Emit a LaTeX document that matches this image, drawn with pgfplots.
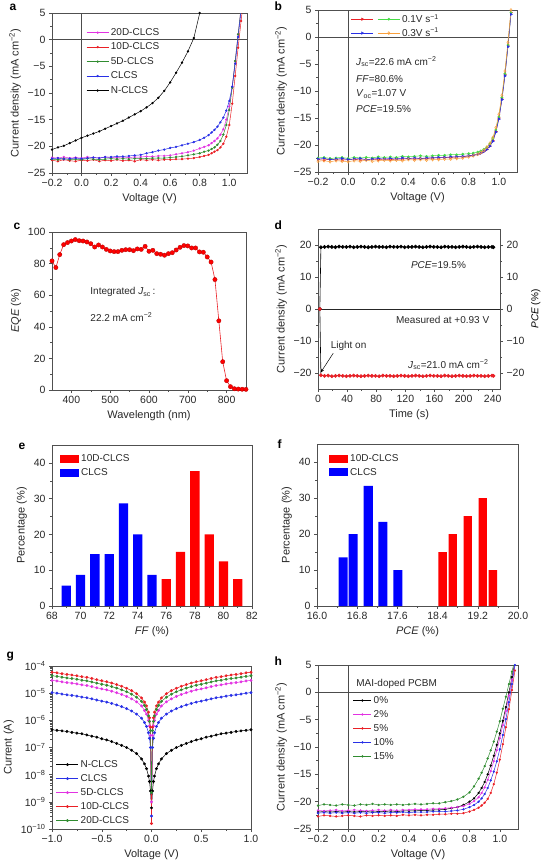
\documentclass[border=0pt]{standalone}
\usepackage{fontspec}
\setmainfont{Liberation Sans}
\usepackage{pgfplots}
\usepackage{pgfplotstable}
\pgfplotsset{compat=1.18}
\usetikzlibrary{arrows.meta,shadings}

\definecolor{cmag}{RGB}{226,50,226}
\definecolor{cred}{RGB}{234,32,38}
\definecolor{cgreen}{RGB}{48,140,48}
\definecolor{cblue}{RGB}{40,48,230}
\definecolor{clgreen}{RGB}{70,220,70}
\definecolor{corange}{RGB}{250,160,60}
\definecolor{cframe}{RGB}{80,80,80}
\definecolor{ctext}{RGB}{40,40,40}

\newcommand{\fs}{\fontsize{10.5}{12}\selectfont}
\newcommand{\fl}{\fontsize{11}{12}\selectfont}
\newcommand{\fa}{\fontsize{10}{11.5}\selectfont}

\pgfplotsset{
  panel/.style={
    scale only axis,
    axis line style={cframe, line width=0.5pt},
    every tick/.style={cframe, line width=0.5pt},
    tick align=outside, tick pos=left,
    major tick length=3pt, minor tick length=1.8pt,
    tick label style={font=\fs, text=ctext},
    label style={font=\fl, text=ctext},
    /pgf/number format/assume math mode=true,
    legend cell align=left,
    legend style={draw=none, fill=none, font=\fa, text=ctext},
  },
  jv/.style={panel, xmin=-0.2, xmax=1.12, ymin=-25, ymax=5,
    xtick={-0.2,0,0.2,0.4,0.6,0.8,1.0},
    xticklabels={−0.2,0.0,0.2,0.4,0.6,0.8,1.0},
    ytick={-25,-20,-15,-10,-5,0,5},
    yticklabels={−25,−20,−15,−10,−5,0,5},
    minor tick num=1,
    xlabel={Voltage (V)},
    ylabel={Current density (mA cm\textsuperscript{−2})}},
  legline/.style={legend image code/.code={\draw[mark repeat=2,mark phase=2,##1] plot coordinates {(0pt,0pt) (11pt,0pt) (22pt,0pt)};}},
  leglineh/.style={legend image code/.code={\draw[mark repeat=2,mark phase=2,##1] plot coordinates {(0pt,0pt) (9pt,0pt) (18pt,0pt)};}},
  legbar/.style={legend image code/.code={\fill[##1] (0pt,-4pt) rectangle (19pt,4pt);}},
}

% panel a: V, 20D, 10D, 5D, CLCS, N-CLCS
\pgfplotstableread{
V m r g b k
-0.20 -22.1 -22.6 -22.4 -22.3 -20.6
-0.16 -22.2 -22.8 -22.5 -22.2 -20.2
-0.12 -22.0 -22.5 -22.3 -22.4 -19.9
-0.08 -22.2 -22.7 -22.5 -22.3 -19.4
-0.04 -22.1 -22.8 -22.4 -22.2 -18.9
0.00 -22.2 -22.6 -22.5 -22.3 -18.4
0.04 -22.0 -22.7 -22.3 -22.2 -18.0
0.08 -22.1 -22.5 -22.4 -22.1 -17.6
0.12 -22.2 -22.8 -22.5 -22.2 -17.2
0.16 -22.0 -22.6 -22.4 -22.0 -16.7
0.20 -22.1 -22.7 -22.3 -22.0 -16.2
0.24 -22.1 -22.5 -22.4 -21.9 -15.7
0.28 -22.0 -22.7 -22.3 -21.9 -15.2
0.32 -22.1 -22.6 -22.4 -21.8 -14.6
0.36 -22.0 -22.8 -22.3 -21.7 -14.0
0.40 -22.0 -22.5 -22.3 -21.6 -13.4
0.44 -21.9 -22.6 -22.3 -21.3 -12.7
0.48 -21.9 -22.5 -22.2 -21.1 -11.9
0.52 -21.8 -22.6 -22.2 -20.8 -10.9
0.56 -21.8 -22.5 -22.2 -20.6 -9.6
0.60 -21.7 -22.5 -22.1 -20.3 -8.0
0.64 -21.5 -22.4 -22.0 -20.1 -6.2
0.68 -21.3 -22.4 -21.9 -19.8 -4.3
0.72 -21.1 -22.3 -21.7 -19.5 -2.2
0.76 -20.8 -22.2 -21.5 -19.2 0.3
0.80 -20.4 -22.0 -21.3 -18.8 5.0
0.83 -20.1 -21.8 -21.0 -18.4 nan
0.86 -19.8 -21.6 -20.8 -17.9 nan
0.88 -19.4 -21.3 -20.5 -17.4 nan
0.90 -19.0 -21.0 -20.2 -16.9 nan
0.92 -18.5 -20.7 -19.7 -16.3 nan
0.94 -17.8 -20.2 -19.0 -15.5 nan
0.96 -16.8 -19.5 -17.8 -14.6 nan
0.98 -15.0 -18.2 -16.0 -13.3 nan
1.00 -12.5 -16.0 -13.2 -11.5 nan
1.02 -8.8 -12.0 -9.0 -8.8 nan
1.04 -4.0 -6.8 -4.0 -4.5 nan
1.06 1.0 -1.5 1.0 0.5 nan
1.08 6.0 3.5 6.0 5.5 nan
1.10 nan 8.5 nan nan nan
}\tabA

% panel b: V, red, green, blue, orange
\pgfplotstableread{
V r g b o
-0.20 -22.7 -22.4 -22.6 -23.0
-0.16 -22.8 -22.3 -22.5 -22.9
-0.12 -22.6 -22.5 -22.7 -23.1
-0.08 -22.7 -22.4 -22.6 -22.9
-0.04 -22.8 -22.3 -22.5 -23.0
0.00 -22.7 -22.5 -22.7 -23.1
0.04 -22.6 -22.3 -22.6 -22.9
0.08 -22.8 -22.4 -22.5 -23.0
0.12 -22.7 -22.3 -22.7 -22.8
0.16 -22.6 -22.4 -22.6 -23.0
0.20 -22.7 -22.2 -22.5 -22.9
0.24 -22.6 -22.3 -22.6 -22.8
0.28 -22.7 -22.2 -22.5 -22.9
0.32 -22.6 -22.3 -22.6 -22.8
0.36 -22.6 -22.1 -22.4 -22.9
0.40 -22.5 -22.2 -22.5 -22.7
0.44 -22.6 -22.1 -22.4 -22.8
0.48 -22.5 -22.0 -22.5 -22.7
0.52 -22.5 -22.1 -22.4 -22.8
0.56 -22.4 -22.0 -22.4 -22.7
0.60 -22.4 -21.9 -22.3 -22.7
0.64 -22.3 -21.9 -22.3 -22.6
0.68 -22.3 -21.8 -22.2 -22.6
0.72 -22.2 -21.8 -22.2 -22.5
0.76 -22.2 -21.7 -22.1 -22.4
0.80 -22.0 -21.6 -22.0 -22.2
0.83 -21.9 -21.5 -21.9 -22.0
0.86 -21.7 -21.3 -21.7 -21.7
0.88 -21.5 -21.1 -21.5 -21.4
0.90 -21.2 -20.8 -21.2 -21.0
0.92 -20.8 -20.4 -20.8 -20.4
0.94 -20.2 -19.8 -20.2 -19.7
0.96 -19.2 -18.8 -19.3 -18.6
0.98 -17.5 -17.2 -17.6 -16.8
1.00 -15.0 -14.8 -15.2 -14.3
1.02 -11.5 -11.2 -11.6 -10.8
1.04 -7.0 -6.8 -7.2 -6.3
1.06 -1.5 -1.5 -1.8 -1.0
1.08 4.5 4.5 4.2 5.0
}\tabB

% panel g: V, N-CLCS, CLCS, 5D, 10D, 20D
\pgfplotstableread{
V k b m r g
-1.00 4.5e-7 1.05e-5 2.96e-5 5.9e-5 4.38e-5
-0.95 4.3e-7 1.0e-5 2.82e-5 5.62e-5 4.17e-5
-0.90 4.1e-7 9.3e-6 2.62e-5 5.23e-5 3.88e-5
-0.85 3.9e-7 8.7e-6 2.45e-5 4.89e-5 3.63e-5
-0.80 3.6e-7 8.3e-6 2.34e-5 4.66e-5 3.46e-5
-0.75 3.4e-7 7.8e-6 2.2e-5 4.38e-5 3.25e-5
-0.70 3.2e-7 7.2e-6 2.03e-5 4.05e-5 3.0e-5
-0.65 2.9e-7 6.8e-6 1.92e-5 3.82e-5 2.84e-5
-0.60 2.6e-7 6.2e-6 1.75e-5 3.48e-5 2.59e-5
-0.55 2.4e-7 5.6e-6 1.58e-5 3.15e-5 2.34e-5
-0.50 2.1e-7 5.1e-6 1.44e-5 2.87e-5 2.13e-5
-0.45 1.9e-7 4.7e-6 1.33e-5 2.64e-5 1.96e-5
-0.40 1.66e-7 4.2e-6 1.18e-5 2.36e-5 1.75e-5
-0.35 1.41e-7 3.7e-6 1.04e-5 2.08e-5 1.54e-5
-0.30 1.2e-7 3.2e-6 9.0e-6 1.8e-5 1.33e-5
-0.25 1.0e-7 2.7e-6 7.6e-6 1.52e-5 1.13e-5
-0.20 7.9e-8 2.2e-6 6.2e-6 1.24e-5 9.2e-6
-0.15 6.0e-8 1.7e-6 4.8e-6 9.6e-6 7.1e-6
-0.10 3.8e-8 1.2e-6 3.4e-6 6.7e-6 5.0e-6
-0.07 2.5e-8 8.3e-7 2.3e-6 4.7e-6 3.5e-6
-0.05 1.66e-8 6.0e-7 1.7e-6 3.4e-6 2.5e-6
-0.03 8.9e-9 3.5e-7 9.9e-7 2.0e-6 1.46e-6
-0.02 5.6e-9 2.2e-7 6.2e-7 1.24e-6 9.2e-7
-0.01 2.5e-9 1.0e-7 2.8e-7 5.6e-7 4.2e-7
0.00 6e-10 3e-10 1.0e-9 1.6e-10 2.2e-9
0.01 2.5e-9 1.0e-7 2.8e-7 5.6e-7 4.2e-7
0.02 5.6e-9 2.2e-7 6.2e-7 1.24e-6 9.2e-7
0.03 8.9e-9 3.5e-7 9.9e-7 2.0e-6 1.46e-6
0.05 1.66e-8 6.0e-7 1.7e-6 3.4e-6 2.5e-6
0.07 2.5e-8 8.3e-7 2.3e-6 4.7e-6 3.5e-6
0.10 3.8e-8 1.2e-6 3.4e-6 6.7e-6 5.0e-6
0.15 6.0e-8 1.7e-6 4.8e-6 9.6e-6 7.1e-6
0.20 7.9e-8 2.2e-6 6.2e-6 1.24e-5 9.2e-6
0.25 1.0e-7 2.7e-6 7.6e-6 1.52e-5 1.13e-5
0.30 1.2e-7 3.2e-6 9.0e-6 1.8e-5 1.33e-5
0.35 1.41e-7 3.7e-6 1.04e-5 2.08e-5 1.54e-5
0.40 1.66e-7 4.2e-6 1.18e-5 2.36e-5 1.75e-5
0.45 1.9e-7 4.7e-6 1.33e-5 2.64e-5 1.96e-5
0.50 2.1e-7 5.1e-6 1.44e-5 2.87e-5 2.13e-5
0.55 2.4e-7 5.6e-6 1.58e-5 3.15e-5 2.34e-5
0.60 2.6e-7 6.2e-6 1.75e-5 3.48e-5 2.59e-5
0.65 2.9e-7 6.8e-6 1.92e-5 3.82e-5 2.84e-5
0.70 3.2e-7 7.2e-6 2.03e-5 4.05e-5 3.0e-5
0.75 3.4e-7 7.8e-6 2.2e-5 4.38e-5 3.25e-5
0.80 3.6e-7 8.3e-6 2.34e-5 4.66e-5 3.46e-5
0.85 3.9e-7 8.7e-6 2.45e-5 4.89e-5 3.63e-5
0.90 4.1e-7 9.3e-6 2.62e-5 5.23e-5 3.88e-5
0.95 4.3e-7 1.0e-5 2.82e-5 5.62e-5 4.17e-5
1.00 4.5e-7 1.05e-5 2.96e-5 5.9e-5 4.38e-5
}\tabG

% panel h: V, 0%, 2%, 5%, 10%, 15%
\pgfplotstableread{
V k m r b g
-0.20 -21.9 -21.6 -22.7 -22.1 -20.7
-0.16 -21.8 -21.7 -22.5 -22.0 -20.5
-0.12 -21.9 -21.6 -22.6 -22.1 -20.6
-0.08 -21.8 -21.5 -22.7 -22.0 -20.7
-0.04 -21.9 -21.7 -22.6 -22.1 -20.5
0.00 -21.8 -21.6 -22.5 -22.0 -20.6
0.04 -21.9 -21.5 -22.6 -22.1 -20.7
0.08 -21.8 -21.6 -22.7 -22.0 -20.5
0.12 -21.8 -21.7 -22.5 -22.1 -20.6
0.16 -21.9 -21.6 -22.6 -22.0 -20.4
0.20 -21.8 -21.5 -22.5 -22.0 -20.6
0.24 -21.8 -21.6 -22.6 -22.1 -20.5
0.28 -21.7 -21.5 -22.5 -22.0 -20.6
0.32 -21.8 -21.6 -22.6 -22.0 -20.5
0.36 -21.7 -21.5 -22.4 -21.9 -20.6
0.40 -21.7 -21.5 -22.5 -22.0 -20.5
0.44 -21.7 -21.4 -22.4 -21.9 -20.4
0.48 -21.6 -21.4 -22.5 -21.9 -20.5
0.52 -21.6 -21.4 -22.4 -21.9 -20.4
0.56 -21.5 -21.3 -22.4 -21.8 -20.3
0.60 -21.5 -21.3 -22.3 -21.8 -20.3
0.64 -21.4 -21.2 -22.3 -21.8 -20.1
0.68 -21.2 -21.1 -22.2 -21.7 -19.9
0.72 -21.0 -21.0 -22.2 -21.6 -19.6
0.76 -20.6 -20.8 -22.1 -21.4 -19.1
0.80 -20.0 -20.4 -21.8 -21.0 -18.3
0.83 -19.4 -19.9 -21.5 -20.6 -17.2
0.86 -18.4 -19.2 -21.1 -20.0 -15.8
0.88 -17.5 -18.4 -20.7 -19.4 -14.7
0.90 -16.4 -17.4 -20.2 -18.6 -13.5
0.92 -15.0 -16.0 -19.5 -17.5 -12.1
0.94 -13.4 -14.4 -18.4 -16.1 -10.6
0.96 -11.6 -12.6 -16.8 -14.5 -9.0
0.98 -9.6 -10.6 -14.7 -12.6 -7.2
1.00 -7.5 -8.4 -12.3 -10.4 -5.3
1.02 -5.2 -6.0 -9.5 -7.8 -3.0
1.04 -2.7 -3.4 -6.4 -4.9 -0.8
1.06 0.0 -0.6 -3.1 -1.8 1.5
1.08 2.8 2.3 0.4 1.5 3.8
1.10 5.6 5.2 4.0 5.0 6.0
}\tabH

\begin{document}
\begin{tikzpicture}
\path[use as bounding box] (0pt,0pt) rectangle (541pt,-865pt);

% ---------------- a
\begin{axis}[jv, at={(52pt,-13pt)}, anchor=north west, width=195pt, height=160pt,
  legline, legend style={at={(0.16,0.93)}, anchor=north west, row sep=2pt}]
\addplot[black!70, forget plot] coordinates {(-0.2,0) (1.12,0)};
\addplot[black!70, forget plot] coordinates {(0,-25) (0,5)};
\addplot[cmag, line width=0.5pt, mark=*, mark size=0.9pt] table[x=V,y=m] {\tabA}; \addlegendentry{20D-CLCS}
\addplot[cred, line width=0.5pt, mark=*, mark size=0.9pt] table[x=V,y=r] {\tabA}; \addlegendentry{10D-CLCS}
\addplot[cgreen, line width=0.5pt, mark=*, mark size=0.9pt] table[x=V,y=g] {\tabA}; \addlegendentry{5D-CLCS}
\addplot[cblue, line width=0.5pt, mark=*, mark size=0.9pt] table[x=V,y=b] {\tabA}; \addlegendentry{CLCS}
\addplot[black, line width=0.5pt, mark=*, mark size=0.9pt] table[x=V,y=k] {\tabA}; \addlegendentry{N-CLCS}
\end{axis}

% ---------------- b
\begin{axis}[jv, at={(318pt,-10pt)}, anchor=north west, width=199pt, height=162pt,
  legline, legend columns=2, legend style={at={(0.15,1.0)}, anchor=north west, row sep=0pt, column sep=0pt}]
\addplot[black!70, forget plot] coordinates {(-0.2,0) (1.12,0)};
\addplot[black!70, forget plot] coordinates {(0,-25) (0,5)};
\addplot[cred, line width=0.5pt, mark=triangle*, mark size=1.4pt, mark options={rotate=-90}] table[x=V,y=r] {\tabB}; \addlegendentry{}
\addplot[clgreen, line width=0.5pt, mark=*, mark size=1.1pt] table[x=V,y=g] {\tabB}; \addlegendentry{0.1V s\textsuperscript{−1}}
\addplot[cblue, line width=0.5pt, mark=triangle*, mark size=1.4pt, mark options={rotate=-90}] table[x=V,y=b] {\tabB}; \addlegendentry{}
\addplot[corange, line width=0.5pt, mark=diamond, mark size=1.5pt] table[x=V,y=o] {\tabB}; \addlegendentry{0.3V s\textsuperscript{−1}}
\node[anchor=west, font=\fa, text=ctext] at (axis cs:0.03,-4.6) {\textit{J}\textsubscript{sc}=22.6 mA cm\textsuperscript{−2}};
\node[anchor=west, font=\fa, text=ctext] at (axis cs:0.03,-7.8) {\textit{FF}=80.6\%};
\node[anchor=west, font=\fa, text=ctext] at (axis cs:0.03,-10.6) {\textit{V}\textsubscript{oc}=1.07 V};
\node[anchor=west, font=\fa, text=ctext] at (axis cs:0.03,-13.4) {\textit{PCE}=19.5\%};
\end{axis}

% ---------------- c
\begin{axis}[panel, at={(52pt,-232pt)}, anchor=north west, width=194pt, height=158pt,
  xmin=350, xmax=850, ymin=0, ymax=100, xtick={400,500,600,700,800}, ytick={0,20,40,60,80,100},
  minor tick num=1, xlabel={Wavelength (nm)}, ylabel={\textit{EQE} (\%)}]
\addplot[cred, line width=0.6pt, mark=*, mark size=2.2pt, mark options={fill=red, draw=red!70!black, line width=0.3pt}] coordinates {
(350,81.7) (360,77.5) (370,85.7) (380,92.0) (390,93.3) (400,94.3) (410,95.2) (420,94.5) (430,94.3) (440,93.7)
(450,92.6) (460,90.5) (470,91.8) (480,90.5) (490,89.0) (500,88.0) (510,87.6) (520,87.6) (530,88.4) (540,88.8)
(550,88.8) (560,88.2) (570,89.3) (580,89.0) (590,90.9) (600,87.8) (610,88.4) (620,86.3) (630,85.9) (640,85.3)
(650,86.3) (660,86.9) (670,88.6) (680,90.3) (690,91.4) (700,91.2) (710,89.9) (720,89.9) (730,87.4) (740,87.2)
(750,84.2) (760,81.0) (770,69.9) (780,43.8) (790,17.9) (800,5.9) (810,2.1) (820,0.8) (830,0.6) (840,0.5) (850,0.4)};
\node[anchor=west, font=\fa, text=ctext] at (axis cs:440,62) {Integrated \textit{J}\textsubscript{sc}\,:};
\node[anchor=west, font=\fa, text=ctext] at (axis cs:440,46) {22.2 mA cm\textsuperscript{−2}};
\end{axis}

% ---------------- d
\begin{axis}[panel, at={(318pt,-229pt)}, anchor=north west, width=182pt, height=160pt,
  xmin=0, xmax=250, ymin=-25, ymax=25, xtick={0,40,80,120,160,200,240},
  ytick={-20,-10,0,10,20}, yticklabels={−20,−10,0,10,20}, minor tick num=1,
  xlabel={Time (s)}, ylabel={Current density (mA cm\textsuperscript{−2})}]
\addplot[black!85, line width=0.6pt] coordinates {(0,0) (250,0)};
\addplot[black, line width=0.6pt, mark=*, mark size=1.6pt] coordinates {
(2.5,0) (4,19.3) (9,19.4) (14,19.5) (19,19.4) (24,19.3) (29,19.5) (34,19.4) (39,19.4) (44,19.5) (49,19.3)
(54,19.4) (59,19.5) (64,19.4) (69,19.3) (74,19.4) (79,19.5) (84,19.4) (89,19.4) (94,19.3) (99,19.5)
(104,19.4) (109,19.4) (114,19.5) (119,19.3) (124,19.4) (129,19.4) (134,19.5) (139,19.4) (144,19.3) (149,19.4)
(154,19.5) (159,19.4) (164,19.4) (169,19.3) (174,19.5) (179,19.4) (184,19.4) (189,19.3) (194,19.4) (199,19.5)
(204,19.4) (209,19.3) (214,19.4) (219,19.5) (224,19.4) (229,19.3) (234,19.4) (239,19.4) (241,19.3)};
\addplot[black, line width=0.6pt, mark=*, mark size=1.6pt, mark options={cred}] coordinates {
(2.5,0) (4,-20.7) (9,-20.9) (14,-20.8) (19,-21.0) (24,-20.9) (29,-20.8) (34,-20.9) (39,-21.0) (44,-20.9) (49,-20.8)
(54,-20.9) (59,-21.0) (64,-20.9) (69,-20.8) (74,-20.9) (79,-20.9) (84,-21.0) (89,-20.8) (94,-20.9) (99,-20.9)
(104,-21.0) (109,-20.9) (114,-20.8) (119,-20.9) (124,-21.0) (129,-20.9) (134,-20.8) (139,-20.9) (144,-21.0) (149,-20.9)
(154,-20.8) (159,-20.9) (164,-20.9) (169,-21.0) (174,-20.8) (179,-20.9) (184,-21.0) (189,-20.9) (194,-20.8) (199,-20.9)
(204,-21.0) (209,-20.9) (214,-20.8) (219,-20.9) (224,-20.9) (229,-21.0) (234,-20.9) (239,-20.8) (241,-20.9)};
\node[anchor=west, font=\fa, text=ctext] at (axis cs:123,13.7) {\textit{PCE}=19.5\%};
\node[anchor=east, font=\fa, text=ctext] at (axis cs:240,-3.4) {Measured at +0.93 V};
\node[font=\fa, text=ctext] at (axis cs:42,-11.6) {Light on};
\node[font=\fa, text=ctext] at (axis cs:179,-17.5) {\textit{J}\textsubscript{sc}=21.0 mA cm\textsuperscript{−2}};
\draw[black, line width=0.5pt, -{Stealth[length=4pt,width=3pt]}] (axis cs:21,-13.8) -- (axis cs:3.5,-19.9);
\end{axis}
\begin{axis}[panel, at={(318pt,-229pt)}, anchor=north west, width=182pt, height=160pt,
  xmin=0, xmax=250, ymin=-25, ymax=25, hide x axis, axis y line*=right,
  ytick pos=right, yticklabel pos=right, ylabel near ticks,
  ytick={-20,-10,0,10,20}, yticklabels={−20,−10,0,10,20}, minor tick num=1,
  ylabel={\textit{PCE} (\%)}]
\addplot[draw=none] coordinates {(0,0)};
\end{axis}

% ---------------- e
\begin{axis}[panel, at={(52pt,-445pt)}, anchor=north west, width=200pt, height=161pt,
  xmin=68, xmax=82, ymin=0, ymax=45, xtick={68,70,72,74,76,78,80,82}, ytick={0,10,20,30,40},
  minor tick num=1, xlabel={\textit{FF} (\%)}, ylabel={Percentage (\%)},
  legbar, legend style={at={(0.025,0.965)}, anchor=north west, row sep=1pt}]
\addplot[ybar, bar width=0.65, bar shift=0pt, fill=red, draw=none] coordinates {(76,7.5) (77,15.1) (78,37.7) (79,20) (80,12.5) (81,7.5)};
\addlegendentry{10D-CLCS}
\addplot[ybar, bar width=0.65, bar shift=0pt, fill=blue, draw=none] coordinates {(69,5.7) (70,8.7) (71,14.5) (72,14.5) (73,28.7) (74,20) (75,8.7)};
\addlegendentry{CLCS}
\end{axis}

% ---------------- f
\begin{axis}[panel, at={(317pt,-444pt)}, anchor=north west, width=201pt, height=162pt,
  xmin=16, xmax=20, ymin=0, ymax=45, xtick={16,16.8,17.6,18.4,19.2,20}, xticklabels={16.0,16.8,17.6,18.4,19.2,20.0},
  ytick={0,10,20,30,40}, minor tick num=1, xlabel={\textit{PCE} (\%)}, ylabel={Percentage (\%)},
  legbar, legend style={at={(0.045,0.96)}, anchor=north west, row sep=1pt}]
\addplot[ybar, bar width=0.165, bar shift=0pt, fill=red, draw=none] coordinates {(18.5,15) (18.7,20) (19.0,25) (19.3,30) (19.5,10)};
\addlegendentry{10D-CLCS}
\addplot[ybar, bar width=0.18, bar shift=0pt, fill=blue, draw=none] coordinates {(16.52,13.5) (16.72,20) (17.02,33.4) (17.31,23.4) (17.61,10)};
\addlegendentry{CLCS}
\end{axis}

% ---------------- g
\begin{axis}[panel, ymode=log, at={(52pt,-666pt)}, anchor=north west, width=199pt, height=163pt,
  xmin=-1, xmax=1, ymin=1e-10, ymax=1e-4, xtick={-1,-0.5,0,0.5,1}, xticklabels={−1.0,−0.5,0.0,0.5,1.0},
  ytick={1e-10,1e-9,1e-8,1e-7,1e-6,1e-5,1e-4},
  yticklabels={10\textsuperscript{−10},10\textsuperscript{−9},10\textsuperscript{−8},10\textsuperscript{−7},10\textsuperscript{−6},10\textsuperscript{−5},10\textsuperscript{−4}},
  minor x tick num=1, xlabel={Voltage (V)}, ylabel={Current (A)},
  legline, legend style={at={(0.005,0.0)}, anchor=south west, row sep=1.5pt}]
\addplot[black, line width=0.5pt, mark=*, mark size=1.2pt] table[x=V,y=k] {\tabG}; \addlegendentry{N-CLCS}
\addplot[cblue, line width=0.5pt, mark=*, mark size=1.2pt] table[x=V,y=b] {\tabG}; \addlegendentry{CLCS}
\addplot[cmag, line width=0.5pt, mark=*, mark size=1.2pt] table[x=V,y=m] {\tabG}; \addlegendentry{5D-CLCS}
\addplot[cred, line width=0.5pt, mark=*, mark size=1.2pt] table[x=V,y=r] {\tabG}; \addlegendentry{10D-CLCS}
\addplot[cgreen, line width=0.5pt, mark=*, mark size=1.2pt] table[x=V,y=g] {\tabG}; \addlegendentry{20D-CLCS}
\end{axis}

% ---------------- h
\begin{axis}[jv, at={(318pt,-665pt)}, anchor=north west, width=200pt, height=164pt,
  leglineh, legend style={at={(0.16,0.835)}, anchor=north west, row sep=1.5pt}]
\addplot[black!70, forget plot] coordinates {(-0.2,0) (1.12,0)};
\addplot[black!70, forget plot] coordinates {(0,-25) (0,5)};
\addplot[black, line width=0.5pt, mark=*, mark size=0.9pt] table[x=V,y=k] {\tabH}; \addlegendentry{0\%}
\addplot[cmag, line width=0.5pt, mark=*, mark size=0.9pt] table[x=V,y=m] {\tabH}; \addlegendentry{2\%}
\addplot[cred, line width=0.5pt, mark=*, mark size=0.9pt] table[x=V,y=r] {\tabH}; \addlegendentry{5\%}
\addplot[cblue, line width=0.5pt, mark=*, mark size=0.9pt] table[x=V,y=b] {\tabH}; \addlegendentry{10\%}
\addplot[cgreen, line width=0.5pt, mark=*, mark size=0.9pt] table[x=V,y=g] {\tabH}; \addlegendentry{15\%}
\node[anchor=west, font=\fa, text=ctext] at (axis cs:0.03,1.5) {MAI-doped PCBM};
\end{axis}

% panel letters
\node[anchor=base west, font=\bfseries\fontsize{12}{12}\selectfont] at (6pt,-10.5pt) {a};
\node[anchor=base west, font=\bfseries\fontsize{12}{12}\selectfont] at (271pt,-10.5pt) {b};
\node[anchor=base west, font=\bfseries\fontsize{12}{12}\selectfont] at (10pt,-229.5pt) {c};
\node[anchor=base west, font=\bfseries\fontsize{12}{12}\selectfont] at (271pt,-229.5pt) {d};
\node[anchor=base west, font=\bfseries\fontsize{12}{12}\selectfont] at (15pt,-449.5pt) {e};
\node[anchor=base west, font=\bfseries\fontsize{12}{12}\selectfont] at (274pt,-448.5pt) {f};
\node[anchor=base west, font=\bfseries\fontsize{12}{12}\selectfont] at (3pt,-658.5pt) {g};
\node[anchor=base west, font=\bfseries\fontsize{12}{12}\selectfont] at (271pt,-665pt) {h};
\end{tikzpicture}
\end{document}
